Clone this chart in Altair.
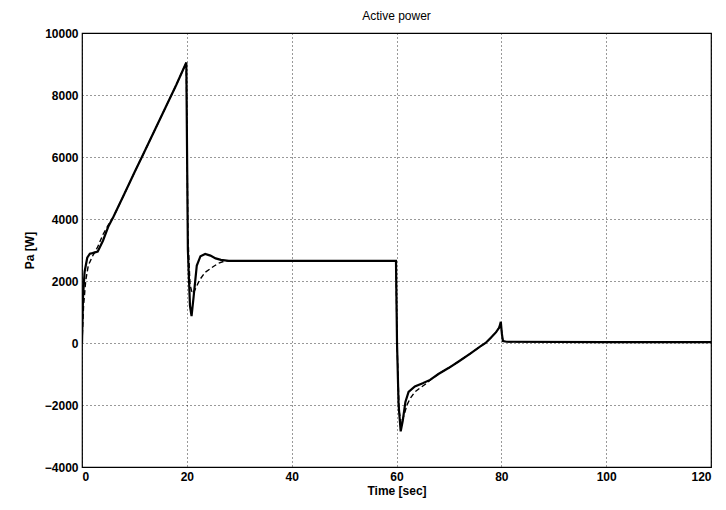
import altair as alt
import pandas as pd

# Solid curve (time [s], active power [W])
t_solid = [0, 0.2, 0.5, 1.0, 1.5, 2.0, 3.0, 4.0, 5.0, 6.0, 8.0, 10.0, 12.0, 14.0, 16.0, 18.0, 19.9,
           20.2, 20.6, 20.9, 21.3, 21.9, 22.6, 23.5, 24.5, 25.5, 26.5, 28.0, 40.0, 59.9,
           60.1, 60.4, 60.8, 61.2, 61.7, 62.3, 63.5, 65.0, 66.4, 68.0, 70.0, 72.0, 74.0, 76.0,
           77.0, 78.0, 79.0, 79.6, 79.9, 80.1, 80.3, 81.0, 100.0, 120.0]
p_solid = [0, 1500, 2300, 2750, 2880, 2900, 2950, 3300, 3750, 4070, 4780, 5500, 6200, 6910, 7620, 8330, 9050,
           3000, 1200, 870, 1500, 2500, 2800, 2870, 2820, 2730, 2680, 2650, 2650, 2650,
           0, -2000, -2850, -2500, -1900, -1580, -1400, -1300, -1190, -1000, -800, -580, -350, -110,
           0, 170, 350, 500, 680, 300, 60, 40, 30, 30]

# Dashed curve
t_dashed = [0, 0.3, 0.7, 1.2, 2.0, 3.0, 4.0, 5.0, 6.0, 8.0, 10.0, 12.0, 14.0, 16.0, 18.0, 19.9,
            20.2, 20.6, 21.0, 21.5, 22.5, 23.5, 25.0, 26.0, 27.0, 28.0, 40.0, 59.9,
            60.1, 60.5, 60.9, 61.3, 62.0, 62.6, 63.5, 64.5, 65.5, 66.4, 68.0, 70.0, 72.0, 74.0, 76.0,
            77.0, 78.0, 79.0, 79.6, 79.9, 80.1, 80.3, 81.0, 100.0, 120.0]
p_dashed = [0, 1200, 2000, 2500, 2800, 3100, 3500, 3800, 4070, 4780, 5500, 6200, 6910, 7620, 8330, 9050,
            3500, 1900, 1600, 1700, 2050, 2280, 2460, 2570, 2630, 2650, 2650, 2650,
            0, -2200, -2600, -2400, -2000, -1790, -1580, -1450, -1330, -1200, -1000, -800, -580, -350, -110,
            0, 170, 350, 500, 680, 300, 60, 40, 30, 30]

x_ticks = [0, 20, 40, 60, 80, 100, 120]
y_ticks = [-4000, -2000, 0, 2000, 4000, 6000, 8000, 10000]

df_s = pd.DataFrame({"t": t_solid, "p": p_solid, "i": range(len(t_solid))})
df_d = pd.DataFrame({"t": t_dashed, "p": p_dashed, "i": range(len(t_dashed))})

FONT = "Liberation Sans"

x_enc = alt.X("t:Q", scale=alt.Scale(domain=[0, 120], nice=False),
              axis=alt.Axis(values=x_ticks, title="Time [sec]", format="d"))
y_enc = alt.Y("p:Q", scale=alt.Scale(domain=[-4000, 10000], nice=False),
              axis=alt.Axis(values=y_ticks, title="Pa [W]", format="d"))

solid = alt.Chart(df_s).mark_line(color="black", strokeWidth=2.2, clip=True).encode(
    x=x_enc, y=y_enc, order="i:Q")
dashed = alt.Chart(df_d).mark_line(color="black", strokeWidth=1.4, strokeDash=[5, 3], clip=True).encode(
    x=x_enc, y=y_enc, order="i:Q")

chart = alt.layer(dashed, solid).properties(
    width=629, height=434,
    title=alt.TitleParams("Active power", font=FONT, fontSize=12, fontWeight="normal", offset=4),
    autosize=alt.AutoSizeParams(type="none"),
    padding={"left": 74, "top": 25, "right": 7, "bottom": 35},
).configure_view(stroke="black", strokeWidth=1.2).configure_axis(
    grid=True, gridColor="black", gridDash=[1, 3], gridOpacity=0.8, gridWidth=1,
    domain=False, ticks=False,
    labelFont=FONT, labelFontSize=12, labelFontWeight="bold", labelColor="black", labelPadding=4,
    titleFont=FONT, titleFontSize=12, titleFontWeight="bold", titleColor="black",
).configure_axisY(titlePadding=8).configure_axisX(titlePadding=3)

chart.save("out.html", embed_options={"renderer": "svg", "actions": False})
